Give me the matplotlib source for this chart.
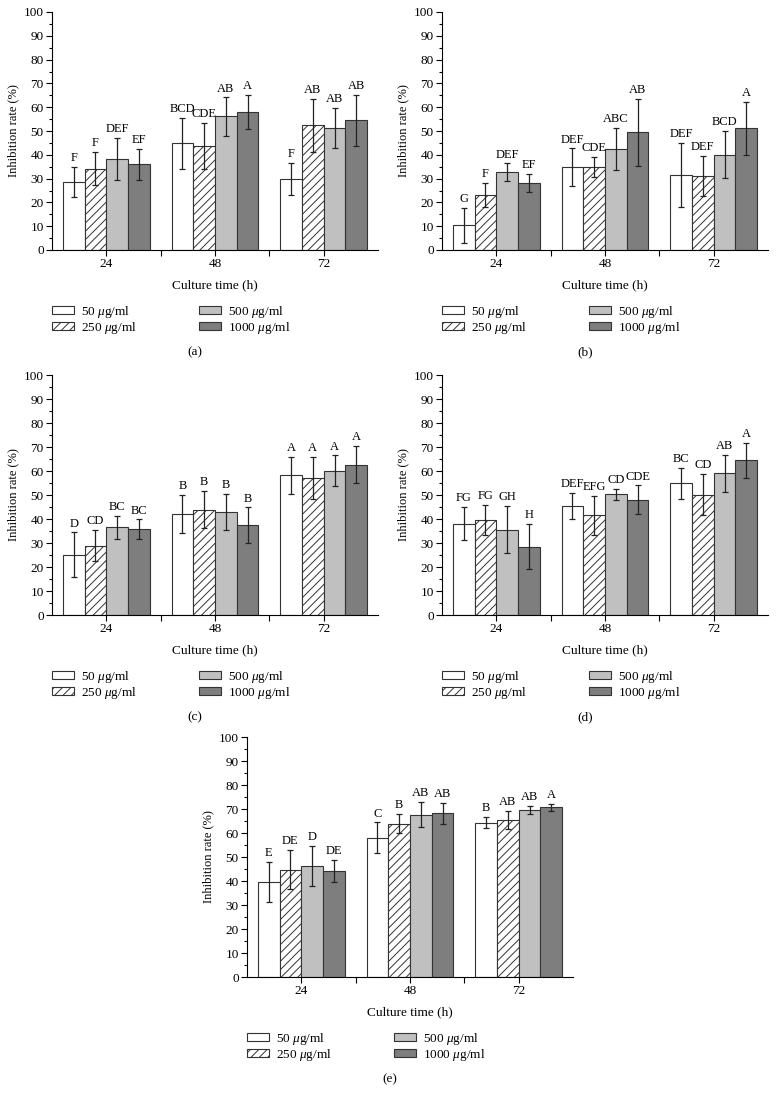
import numpy as np
import matplotlib.pyplot as plt

plt.rcParams['font.family'] = ['Liberation Serif', 'DejaVu Serif']
plt.rcParams['mathtext.fontset'] = 'custom'
plt.rcParams['mathtext.rm'] = 'Liberation Serif'
plt.rcParams['mathtext.it'] = 'Liberation Serif:italic'
plt.rcParams['hatch.linewidth'] = 0.7

# culture time groups and concentrations
times = ['24', '48', '72']
doses = [r'50 $\mu$g/ml', r'250 $\mu$g/ml', r'500 $\mu$g/ml', r'1000 $\mu$g/ml']

# panel (a): rows = dose, cols = time
a_mean = [[28.6, 44.8, 29.8], [34.2, 43.8, 52.4], [38.4, 56.1, 51.4], [36.0, 58.0, 54.5]]
a_err = [[6.2, 10.8, 6.8], [7.0, 9.6, 11.2], [8.8, 8.0, 8.4], [6.4, 7.0, 10.6]]
a_lab = [['F', 'BCD', 'F'], ['F', 'CDE', 'AB'], ['DEF', 'AB', 'AB'], ['EF', 'A', 'AB']]

# panel (b)
b_mean = [[10.3, 34.9, 31.6], [23.1, 34.8, 31.1], [32.6, 42.6, 40.1], [28.1, 49.5, 51.2]]
b_err = [[7.2, 7.8, 13.4], [5.2, 4.3, 8.5], [3.8, 8.8, 10.0], [3.8, 14.0, 11.1]]
b_lab = [['G', 'DEF', 'DEF'], ['F', 'CDE', 'DEF'], ['DEF', 'ABC', 'BCD'], ['EF', 'AB', 'A']]

# panel (c)
c_mean = [[25.2, 42.0, 58.2], [28.8, 43.9, 57.1], [36.5, 43.0, 60.2], [35.8, 37.4, 62.7]]
c_err = [[9.2, 7.9, 7.7], [6.5, 7.7, 8.7], [4.7, 7.4, 6.3], [4.0, 7.4, 7.9]]
c_lab = [['D', 'B', 'A'], ['CD', 'B', 'A'], ['BC', 'B', 'A'], ['BC', 'B', 'A']]

# panel (d)
d_mean = [[38.1, 45.6, 54.8], [39.5, 41.6, 50.2], [35.6, 50.3, 59.0], [28.5, 48.1, 64.4]]
d_err = [[7.0, 5.4, 6.6], [6.2, 8.1, 8.5], [9.9, 2.4, 7.6], [9.5, 5.9, 7.3]]
d_lab = [['FG', 'DEF', 'BC'], ['FG', 'EFG', 'CD'], ['GH', 'CD', 'AB'], ['H', 'CDE', 'A']]

# panel (e)
e_mean = [[39.6, 58.1, 64.3], [44.7, 63.9, 65.3], [46.4, 67.6, 69.6], [44.2, 68.3, 70.7]]
e_err = [[8.3, 6.3, 2.4], [8.1, 4.1, 3.8], [8.3, 5.2, 1.7], [4.5, 4.4, 1.5]]
e_lab = [['E', 'C', 'B'], ['DE', 'B', 'AB'], ['D', 'AB', 'AB'], ['DE', 'AB', 'A']]

faces = ['white', 'white', '#c0c0c0', '#7e7e7e']
hatches = ['', '////', '', '']

W, H = 776, 1105
fig = plt.figure(figsize=(W / 100, H / 100), dpi=100)


def panel(left, top, bottom, mean, err, lab, cap):
    ax = fig.add_axes([left / W, 1 - bottom / H, 326 / W, (bottom - top) / H])
    x = np.arange(len(times))
    w = 0.2
    handles = []
    for i in range(4):
        pos = x + (i - 1.5) * w
        b = ax.bar(pos, mean[i], w, color=faces[i], edgecolor='#333333',
                   linewidth=0.8, hatch=hatches[i], zorder=2)
        handles.append(b)
        ax.errorbar(pos, mean[i], yerr=err[i], fmt='none', ecolor='#222222',
                    elinewidth=0.9, capsize=2.5, capthick=0.9, zorder=3)
        for p, m, e, t in zip(pos, mean[i], err[i], lab[i]):
            ax.text(p, m + e + 1.2, t, ha='center', va='bottom', fontsize=9)
    ax.set_xlim(-0.5, 2.5)
    ax.set_ylim(0, 100)
    ax.set_xticks(x)
    ax.set_xticklabels(times)
    ax.set_xticks([0.5, 1.5], minor=True)
    ax.set_yticks(np.arange(0, 101, 10))
    ax.set_yticks(np.arange(5, 100, 10), minor=True)
    ax.tick_params(axis='both', which='major', direction='out', length=4,
                   width=0.8, labelsize=9.5, pad=2)
    ax.tick_params(axis='y', which='minor', direction='out', length=2, width=0.8)
    ax.tick_params(axis='x', which='minor', direction='out', length=4, width=0.8)
    for s in ['top', 'right']:
        ax.spines[s].set_visible(False)
    for s in ['left', 'bottom']:
        ax.spines[s].set_linewidth(0.8)
    ax.set_ylabel('Inhibition rate (%)', fontsize=9, labelpad=3)

    cx = (left + left + 326) / 2
    fig.text(cx / W, 1 - (bottom + 35) / H, 'Culture time (h)', ha='center',
             va='center', fontsize=9.5)
    fig.legend(handles, doses, ncol=2, loc='upper left',
               bbox_to_anchor=(left / W, 1 - (bottom + 54) / H),
               frameon=False, fontsize=9.5, handlelength=1.65, handleheight=0.55,
               handletextpad=0.55, columnspacing=4.7, labelspacing=0.0,
               borderpad=0, borderaxespad=0)
    fig.text((left - 52 + 195) / W, 1 - (bottom + 102) / H, cap, ha='center',
             va='center', fontsize=9.5)
    return ax


panel(52, 12, 250, a_mean, a_err, a_lab, '(a)')
panel(442, 12, 250, b_mean, b_err, b_lab, '(b)')
panel(52, 375, 615, c_mean, c_err, c_lab, '(c)')
panel(442, 375, 615, d_mean, d_err, d_lab, '(d)')
panel(247, 737, 977, e_mean, e_err, e_lab, '(e)')

fig.savefig('out.png', dpi=100)
